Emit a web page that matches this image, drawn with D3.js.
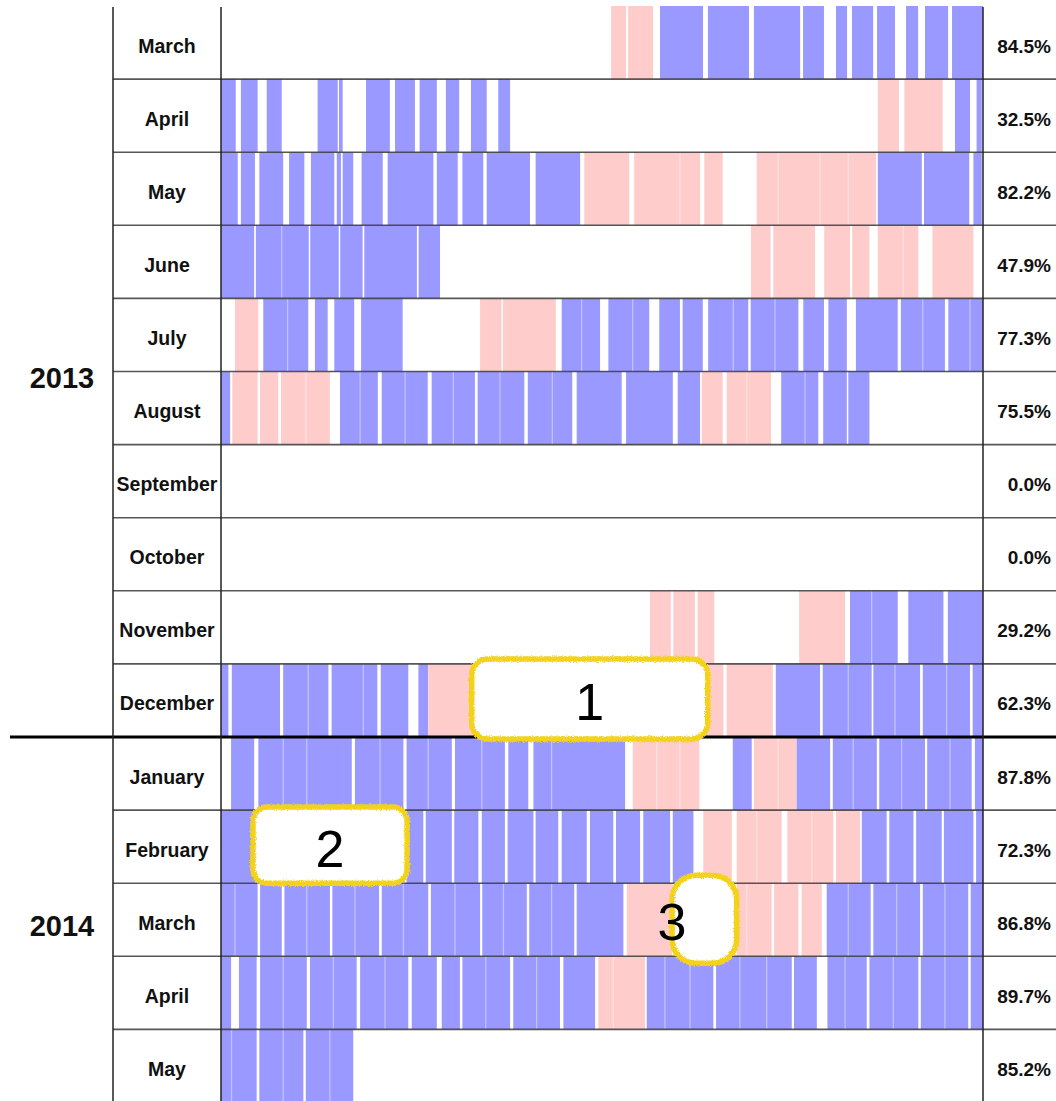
<!DOCTYPE html>
<html><head><meta charset="utf-8">
<script src="https://cdn.jsdelivr.net/npm/d3@7"></script>
<style>body{margin:0;background:#fff;overflow:hidden}</style>
</head><body>
<svg id="chart" width="1056" height="1101"></svg>
<script>
// ---- data ----
const monthLabels = ['March','April','May','June','July','August','September','October','November','December','January','February','March','April','May'];
const yearLabels = ['2013','2014'];
const yearFirstRow = [0, 10];
const yearLastRow = [9, 14];
const percentLabels = ['84.5%','32.5%','82.2%','47.9%','77.3%','75.5%','0.0%','0.0%','29.2%','62.3%','87.8%','72.3%','86.8%','89.7%','85.2%'];

// segments per month: [startDay, endDay, type]  b = blue, p = pink
const mar13 = [[15.87,16.48,'p'],[16.56,17.58,'p'],[17.86,19.61,'b'],[19.81,21.48,'b'],[21.68,23.56,'b'],[23.68,24.53,'b'],[25.02,25.47,'b'],[25.67,26.53,'b'],[26.69,27.42,'b'],[27.87,28.36,'b'],[28.64,29.58,'b'],[29.74,31,'b']];
const apr13 = [[0,0.60,'b'],[0.81,1.49,'b'],[1.86,2.47,'b'],[3.93,4.75,'b'],[4.80,4.95,'b'],[5.90,6.87,'b'],[7.08,7.89,'b'],[8.08,8.78,'b'],[9.15,9.69,'b'],[10.17,10.81,'b'],[11.28,11.76,'b'],[26.72,27.58,'p'],[27.80,29.36,'p'],[29.86,30.47,'b'],[30.74,30.95,'b']];
const may13 = [[0,0.68,'b'],[0.81,1.38,'b'],[1.56,2.53,'b'],[2.77,3.39,'b'],[3.66,4.61,'b'],[4.71,4.88,'b'],[4.95,5.38,'b'],[5.72,6.58,'b'],[6.78,8.64,'b'],[8.78,9.63,'b'],[9.82,10.67,'b'],[10.81,12.57,'b'],[12.80,14.61,'b'],[14.78,16.61,'p'],[16.81,19.49,'p'],[19.66,20.41,'p'],[21.79,26.65,'p'],[26.72,28.51,'b'],[28.60,30.44,'b'],[30.61,30.95,'b']];
const jun13 = [[0,1.35,'b'],[1.42,3.57,'b'],[3.63,4.79,'b'],[4.85,5.76,'b'],[5.83,7.97,'b'],[8.04,8.91,'b'],[21.56,22.36,'p'],[22.47,24.17,'p'],[24.54,25.59,'p'],[25.68,26.38,'p'],[26.72,28.37,'p'],[28.94,30.61,'p']];
const jul13 = [[0.57,1.52,'p'],[1.72,3.55,'b'],[3.82,4.34,'b'],[4.61,5.42,'b'],[5.70,7.39,'b'],[10.54,11.41,'p'],[11.47,13.62,'p'],[13.86,15.42,'b'],[15.76,17.42,'b'],[17.83,18.67,'b'],[18.78,19.60,'b'],[19.82,21.45,'b'],[21.55,23.49,'b'],[23.69,24.53,'b'],[24.71,25.46,'b'],[25.83,27.53,'b'],[27.66,29.45,'b'],[29.59,31,'b']];
const aug13 = [[0,0.37,'b'],[0.46,1.49,'p'],[1.59,2.33,'p'],[2.44,4.43,'p'],[4.84,6.38,'b'],[6.54,8.41,'b'],[8.57,10.33,'b'],[10.44,12.34,'b'],[12.48,14.29,'b'],[14.47,16.30,'b'],[16.48,18.38,'b'],[18.58,19.49,'b'],[19.56,20.41,'p'],[20.57,22.38,'p'],[22.79,24.30,'b'],[24.50,25.46,'b'],[25.52,26.38,'b']];
const sep13 = [];
const oct13 = [];
const nov13 = [[17.45,18.30,'p'],[18.40,19.28,'p'],[19.39,20.07,'p'],[23.52,25.39,'p'],[25.59,27.53,'b'],[27.96,29.39,'b'],[29.57,31,'b']];
const dec13 = [[0,0.30,'b'],[0.44,2.40,'b'],[2.53,4.37,'b'],[4.50,6.36,'b'],[6.50,7.62,'b'],[8.03,8.43,'b'],[8.43,10.33,'p'],[19.73,20.44,'p'],[20.57,22.45,'p'],[22.57,24.37,'b'],[24.48,26.47,'b'],[26.54,28.44,'b'],[28.55,30.47,'b'],[30.58,31,'b']];
const jan14 = [[0.41,1.35,'b'],[1.52,5.32,'b'],[5.45,7.42,'b'],[7.55,9.39,'b'],[9.52,11.55,'b'],[11.69,12.50,'b'],[12.71,16.44,'b'],[16.75,19.46,'p'],[20.82,21.59,'b'],[21.68,23.42,'p'],[23.42,24.78,'b'],[24.89,26.68,'b'],[26.78,28.64,'b'],[28.73,30.54,'b'],[30.67,31,'b']];
const feb14 = [[0,1.38,'b'],[7.55,8.23,'b'],[8.33,9.39,'b'],[9.49,10.47,'b'],[10.61,11.55,'b'],[11.66,12.71,'b'],[12.80,13.72,'b'],[13.86,14.88,'b'],[15.01,15.96,'b'],[16.07,17.05,'b'],[17.18,18.27,'b'],[18.38,19.22,'b'],[19.62,20.78,'p'],[20.98,22.81,'p'],[23.04,24.91,'p'],[25.02,26.00,'p'],[26.07,27.08,'b'],[27.19,28.17,'b'],[28.28,29.32,'b'],[29.41,30.61,'b'],[30.72,31,'b']];
const mar14 = [[0,1.49,'b'],[1.59,2.47,'b'],[2.58,4.43,'b'],[4.53,6.43,'b'],[6.54,8.43,'b'],[8.54,10.54,'b'],[10.63,12.44,'b'],[12.54,14.37,'b'],[14.47,16.37,'b'],[16.51,18.35,'p'],[20.98,22.40,'p'],[22.50,23.49,'p'],[23.62,24.44,'p'],[24.64,26.43,'b'],[26.54,28.44,'b'],[28.55,30.40,'b'],[30.50,31,'b']];
const apr14 = [[0,0.41,'b'],[0.73,1.45,'b'],[1.59,3.49,'b'],[3.62,5.52,'b'],[5.66,7.62,'b'],[7.76,8.78,'b'],[8.98,9.72,'b'],[9.82,11.76,'b'],[11.89,13.79,'b'],[13.93,15.22,'b'],[15.35,17.25,'p'],[17.32,20.03,'b'],[20.14,23.22,'b'],[23.31,24.24,'b'],[24.67,26.27,'b'],[26.38,28.37,'b'],[28.47,30.40,'b'],[30.50,31,'b']];
const may14 = [[0,1.45,'b'],[1.56,3.35,'b'],[3.45,5.38,'b']];
const rowSegments = [mar13, apr13, may13, jun13, jul13, aug13, sep13, oct13, nov13, dec13, jan14, feb14, mar14, apr14, may14];

// faint day dividers inside filled runs (day positions)
const faintLines = [
  [],
  [],
  [18.67, 22.67, 24.37, 25.52],
  [2.47, 27.76],
  [2.71, 14.67, 16.75, 20.84, 22.54, 28.55, 30.47],
  [3.45, 5.66, 7.49, 9.45, 11.35, 13.48, 21.39, 23.76],
  [],
  [],
  [26.47],
  [3.55, 5.79, 25.52, 27.42, 29.52],
  [2.53, 3.49, 6.47, 8.43, 10.61, 13.45, 17.73, 18.67, 22.67, 25.72, 27.69, 29.66],
  [21.79, 24.03],
  [0.57, 3.49, 5.45, 7.42, 9.52, 11.49, 13.45, 21.39, 25.52, 27.49, 29.45],
  [2.53, 4.57, 6.67, 10.77, 12.84, 15.96, 18.06, 19.08, 21.11, 22.20, 25.39, 27.35, 29.45],
  [0.43, 2.53, 4.43]
];

// annotations (hand-drawn callouts)
const annLabels = ['1','2','3'];
const annRows = [9, 11, 12];
const annStart = [10.2, 1.3, 18.35];
const annEnd = [19.8, 7.57, 20.98];

// ---- layout ----
const W = 1056, H = 1101;
const labelLeft = 113, plotLeft = 221, plotRight = 983;
const colors = {b: '#9999ff', p: '#ffcccc'};
const font = "'Liberation Sans', Arial, Helvetica, sans-serif";

const svg = d3.select('#chart');
const defs = svg.append('defs');
const filt = defs.append('filter').attr('id', 'rough')
  .attr('x', '-10%').attr('y', '-10%').attr('width', '120%').attr('height', '120%');
filt.append('feTurbulence').attr('type', 'fractalNoise').attr('baseFrequency', 0.8).attr('numOctaves', 2).attr('result', 'noise');
filt.append('feDisplacementMap').attr('in', 'SourceGraphic').attr('in2', 'noise').attr('scale', 3.5)
  .attr('xChannelSelector', 'R').attr('yChannelSelector', 'G');

const x = d3.scaleLinear().domain([0, 31]).range([plotLeft, plotRight]);
const y = d3.scaleBand().domain(d3.range(monthLabels.length)).range([6, 1102.5]).padding(0);

// bars
const rows = svg.append('g').selectAll('g').data(rowSegments).join('g')
  .attr('transform', (d, i) => `translate(0,${y(i)})`);
rows.selectAll('rect').data(d => d).join('rect')
  .attr('x', d => x(d[0]))
  .attr('width', d => Math.max(0, x(d[1]) - x(d[0])))
  .attr('y', 0)
  .attr('height', y.bandwidth())
  .attr('fill', d => colors[d[2]]);

// faint dividers
const fl = svg.append('g').selectAll('g').data(faintLines).join('g')
  .attr('transform', (d, i) => `translate(0,${y(i)})`);
fl.selectAll('line').data(d => d).join('line')
  .attr('x1', d => x(d)).attr('x2', d => x(d))
  .attr('y1', 0).attr('y2', y.bandwidth())
  .attr('stroke', '#fff').attr('stroke-opacity', 0.4).attr('stroke-width', 1.3);

// row separators
const bounds = d3.range(1, monthLabels.length).map(i => y(i));
svg.append('g').selectAll('line').data(bounds).join('line')
  .attr('x1', labelLeft).attr('x2', W)
  .attr('y1', d => d).attr('y2', d => d)
  .attr('stroke', '#3a3a3a').attr('stroke-opacity', 0.85).attr('stroke-width', 1.6);

// year separator
svg.append('line')
  .attr('x1', 10).attr('x2', W)
  .attr('y1', y(yearFirstRow[1])).attr('y2', y(yearFirstRow[1]))
  .attr('stroke', '#000').attr('stroke-width', 3);

// verticals
svg.append('g').selectAll('line').data([labelLeft, plotLeft, plotRight]).join('line')
  .attr('x1', d => d).attr('x2', d => d)
  .attr('y1', 7).attr('y2', H)
  .attr('stroke', '#222').attr('stroke-width', 1.5);

// month labels
svg.append('g').selectAll('text').data(monthLabels).join('text')
  .attr('x', (labelLeft + plotLeft) / 2)
  .attr('y', (d, i) => y(i) + y.bandwidth() / 2 + 10)
  .attr('text-anchor', 'middle')
  .attr('font-family', font).attr('font-weight', 'bold').attr('font-size', 19.5)
  .attr('fill', '#111')
  .text(d => d);

// percentages
svg.append('g').selectAll('text').data(percentLabels).join('text')
  .attr('x', 1051)
  .attr('y', (d, i) => y(i) + y.bandwidth() / 2 + 10)
  .attr('text-anchor', 'end')
  .attr('font-family', font).attr('font-weight', 'bold').attr('font-size', 19)
  .attr('fill', '#111')
  .text(d => d);

// year labels
svg.append('g').selectAll('text').data(yearLabels).join('text')
  .attr('x', 62)
  .attr('y', (d, i) => (y(yearFirstRow[i]) + y(yearLastRow[i]) + y.bandwidth()) / 2 + 16)
  .attr('text-anchor', 'middle')
  .attr('font-family', font).attr('font-weight', 'bold').attr('font-size', 29)
  .attr('fill', '#111')
  .text(d => d);

// annotations
const padTop = [5, 3, 8], padBot = [2, 0, 7], radius = [16, 14, 24];
const ann = svg.append('g');
annLabels.forEach((lab, k) => {
  const r = annRows[k];
  const x0 = x(annStart[k]), x1 = x(annEnd[k]);
  const y0 = y(r) - padTop[k], y1 = y(r) + y.bandwidth() + padBot[k];
  ann.append('rect')
    .attr('x', x0).attr('y', y0).attr('width', x1 - x0).attr('height', y1 - y0)
    .attr('rx', radius[k]).attr('ry', radius[k])
    .attr('fill', '#fff').attr('stroke', 'none');
  ann.append('rect')
    .attr('x', x0).attr('y', y0).attr('width', x1 - x0).attr('height', y1 - y0)
    .attr('rx', radius[k]).attr('ry', radius[k])
    .attr('fill', 'none').attr('stroke', '#f3d21c').attr('stroke-width', 5.5)
    .attr('filter', 'url(#rough)');
  const tx = k === 2 ? x0 : (x0 + x1) / 2;
  ann.append('text')
    .attr('x', tx).attr('y', y(r) + y.bandwidth() / 2 + 20)
    .attr('text-anchor', 'middle')
    .attr('font-family', font).attr('font-size', 52).attr('fill', '#000')
    .text(lab);
});
</script>
</body></html>
